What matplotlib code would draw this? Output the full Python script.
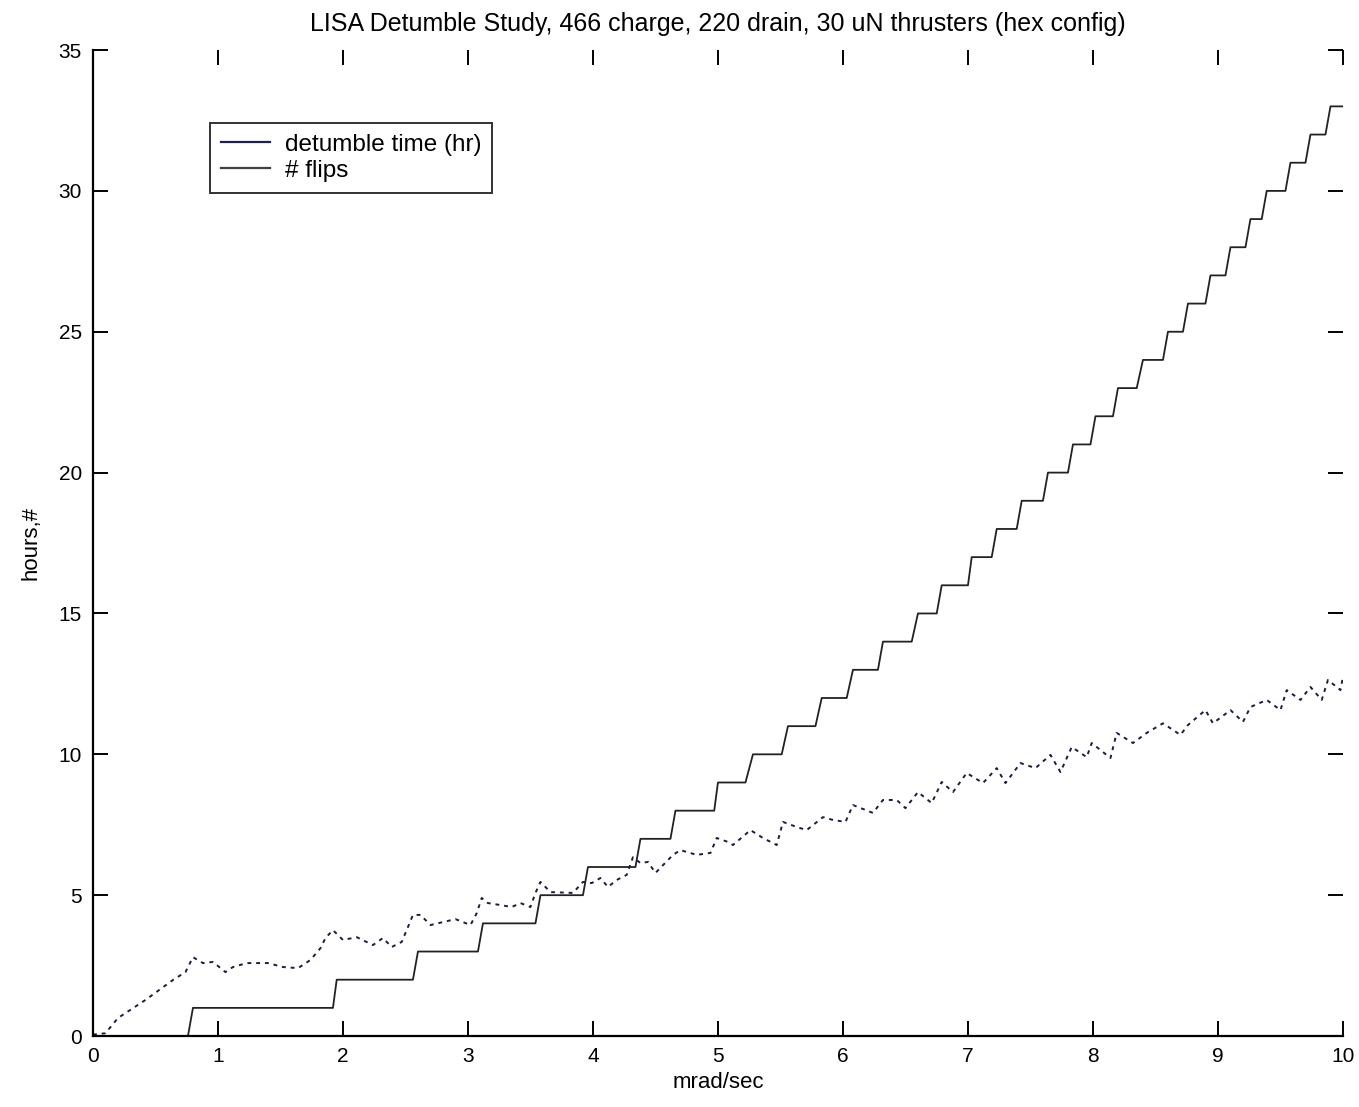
import matplotlib
matplotlib.use('Agg')
import matplotlib.pyplot as plt
from matplotlib.lines import Line2D
import numpy as np

plt.rcParams['font.family'] = ['Liberation Sans', 'DejaVu Sans']

# detumble time (hr) vs rate (mrad/sec)
rate = [0.0, 0.1, 0.2, 0.42, 0.55, 0.64, 0.74, 0.8, 0.88, 0.96, 1.06, 1.12, 1.23, 1.4,
        1.52, 1.64, 1.74, 1.82, 1.86, 1.92, 2.0, 2.11, 2.24, 2.32, 2.39, 2.47, 2.52, 2.56,
        2.62, 2.7, 2.9, 3.02, 3.07, 3.11, 3.16, 3.26, 3.35, 3.42, 3.5, 3.54, 3.58, 3.66,
        3.84, 3.92, 3.99, 4.06, 4.12, 4.19, 4.27, 4.32, 4.38, 4.44, 4.5, 4.64, 4.7, 4.83,
        4.94, 4.99, 5.08, 5.12, 5.26, 5.36, 5.47, 5.52, 5.63, 5.71, 5.84, 5.92, 6.02, 6.08,
        6.24, 6.32, 6.43, 6.5, 6.6, 6.71, 6.79, 6.88, 6.99, 7.12, 7.23, 7.3, 7.42, 7.54,
        7.66, 7.74, 7.83, 7.95, 7.99, 8.14, 8.19, 8.32, 8.43, 8.56, 8.7, 8.76, 8.9, 8.96,
        9.1, 9.2, 9.26, 9.39, 9.5, 9.55, 9.66, 9.74, 9.83, 9.88, 9.98, 10.0]
detumble = [0.05, 0.1, 0.64, 1.28, 1.7, 1.99, 2.27, 2.8, 2.59, 2.63, 2.27, 2.45, 2.59, 2.59,
            2.45, 2.41, 2.7, 3.12, 3.48, 3.76, 3.41, 3.51, 3.23, 3.48, 3.16, 3.34, 3.87, 4.3,
            4.3, 3.94, 4.15, 3.94, 4.36, 4.9, 4.72, 4.65, 4.58, 4.72, 4.58, 5.08, 5.47, 5.11,
            5.08, 5.47, 5.43, 5.61, 5.29, 5.54, 5.72, 6.35, 6.14, 6.18, 5.79, 6.43, 6.6, 6.43,
            6.5, 7.03, 6.89, 6.78, 7.31, 7.03, 6.78, 7.6, 7.42, 7.31, 7.77, 7.67, 7.6, 8.2,
            7.92, 8.38, 8.38, 8.09, 8.66, 8.27, 9.02, 8.66, 9.34, 8.98, 9.51, 8.98, 9.69, 9.51,
            9.98, 9.37, 10.26, 9.9, 10.4, 9.87, 10.76, 10.4, 10.76, 11.1, 10.69, 11.04, 11.57, 11.1,
            11.57, 11.15, 11.68, 11.93, 11.57, 12.28, 11.93, 12.39, 11.93, 12.64, 12.28, 12.75]

# number of flips: each level holds from flip_start to flip_end
flip_levels = list(range(0, 34))
flip_start = [0.0, 0.8, 1.95, 2.6, 3.12, 3.58, 3.96, 4.38, 4.66, 5.0, 5.28, 5.56, 5.83, 6.08,
              6.32, 6.6, 6.79, 7.03, 7.23, 7.43, 7.64, 7.84, 8.02, 8.2, 8.4, 8.6, 8.76, 8.94,
              9.1, 9.26, 9.39, 9.58, 9.74, 9.9]
flip_end = [0.76, 1.92, 2.56, 3.08, 3.54, 3.92, 4.34, 4.62, 4.97, 5.22, 5.51, 5.78, 6.03, 6.28,
            6.55, 6.75, 7.0, 7.19, 7.39, 7.6, 7.8, 7.98, 8.16, 8.35, 8.56, 8.72, 8.9, 9.06,
            9.22, 9.35, 9.54, 9.7, 9.86, 10.0]

flips_x = []
flips_y = []
for lev, a, b in zip(flip_levels, flip_start, flip_end):
    flips_x += [a, b]
    flips_y += [lev, lev]

fig = plt.figure(figsize=(13.59, 11.07), dpi=100)
ax = fig.add_axes([0.0684, 0.0641, 0.9198, 0.8907])

ax.plot(rate, detumble, color='#1c1c40', lw=1.4, linestyle=(0, (2, 2.5)))
ax.plot(flips_x, flips_y, color='#222222', lw=1.3)

ax.set_xlim(0, 10)
ax.set_ylim(0, 35)
ax.set_xticks(np.arange(0, 11, 1))
ax.set_yticks(np.arange(0, 36, 5))

ax.spines['top'].set_visible(False)
ax.spines['right'].set_visible(False)
ax.spines['left'].set_linewidth(1.6)
ax.spines['bottom'].set_linewidth(1.6)
ax.tick_params(direction='in', length=11, width=1.4, labelsize=15,
               top=True, right=True, pad=8)

ax.set_title('LISA Detumble Study, 466 charge, 220 drain, 30 uN thrusters (hex config)',
             fontsize=18, pad=14)
ax.set_xlabel('mrad/sec', fontsize=16, labelpad=4)
ax.set_ylabel('hours,#', fontsize=16, labelpad=12)

handles = [Line2D([], [], color='#202050', lw=1.6),
           Line2D([], [], color='#404040', lw=1.6)]
leg = ax.legend(handles, ['detumble time (hr)', '# flips'], loc='upper left',
                bbox_to_anchor=(0.094, 0.926), fontsize=17.5, frameon=True,
                fancybox=False, handlelength=2.0, handletextpad=0.6,
                borderpad=0.45, borderaxespad=0.0, labelspacing=0.15)
leg.get_frame().set_edgecolor('black')
leg.get_frame().set_linewidth(1.4)

fig.savefig('out.png', dpi=100)
